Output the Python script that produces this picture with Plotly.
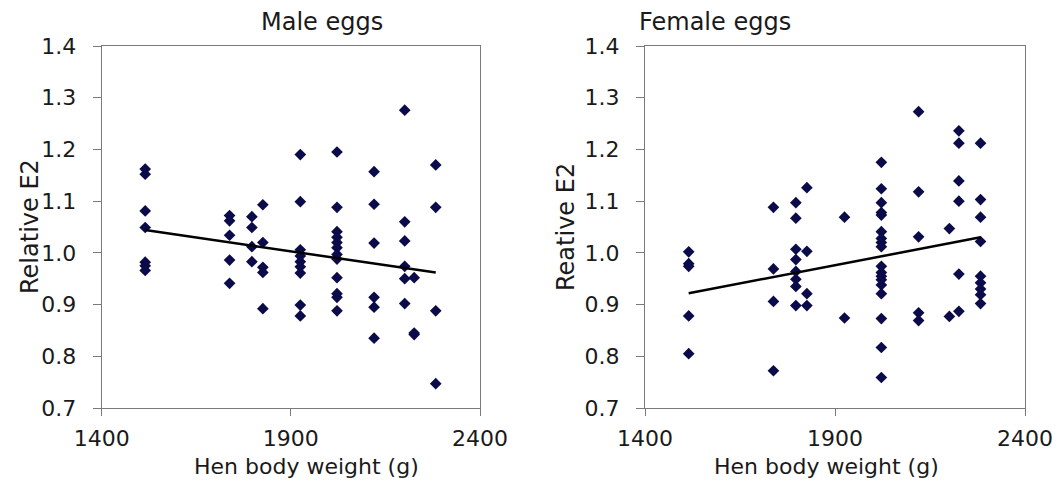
import plotly.graph_objects as go

# ---- Data ----
male_x = ([1515]*7 + [1738]*5 + [1797]*4 + [1826]*5 + [1925]*9 + [2022]*12 +
          [2120]*6 + [2201]*6 + [2226]*3 + [2283]*4)
male_y = [1.162, 1.152, 1.081, 1.049, 0.982, 0.975, 0.966,
          1.072, 1.062, 1.034, 0.986, 0.941,
          1.070, 1.049, 1.012, 0.983,
          1.093, 1.020, 0.972, 0.962, 0.892,
          1.190, 1.099, 1.006, 0.994, 0.983, 0.973, 0.961, 0.899, 0.878,
          1.195, 1.088, 1.041, 1.030, 1.020, 1.010, 0.997, 0.988, 0.952, 0.921, 0.914, 0.888,
          1.157, 1.094, 1.019, 0.914, 0.895, 0.835,
          1.276, 1.060, 1.023, 0.974, 0.950, 0.902,
          0.952, 0.845, 0.842,
          1.170, 1.088, 0.888, 0.747]

female_x = ([1515]*5 + [1738]*4 + [1797]*8 + [1826]*4 + [1925]*2 + [2022]*18 +
            [2120]*5 + [2201]*2 + [2226]*6 + [2283]*9)
female_y = [1.002, 0.979, 0.974, 0.878, 0.805,
            1.088, 0.969, 0.906, 0.772,
            1.097, 1.067, 1.007, 0.987, 0.964, 0.949, 0.935, 0.898,
            1.126, 1.003, 0.921, 0.898,
            1.069, 0.874,
            1.175, 1.124, 1.097, 1.078, 1.073, 1.041, 1.028, 1.020, 1.012,
            0.974, 0.962, 0.955, 0.948, 0.938, 0.921, 0.873, 0.817, 0.759,
            1.273, 1.118, 1.031, 0.884, 0.869,
            1.047, 0.877,
            1.236, 1.212, 1.139, 1.100, 0.959, 0.887,
            1.212, 1.103, 1.069, 1.022, 0.955, 0.942, 0.930, 0.919, 0.902]

# trend lines (end values)
trend_x = [1515, 2283]
male_trend_y = [1.044, 0.962]
female_trend_y = [0.922, 1.030]

x_ticks = [1400, 1900, 2400]
y_ticks = [0.7, 0.8, 0.9, 1.0, 1.1, 1.2, 1.3, 1.4]
panel_titles = ["Male eggs", "Female eggs"]
y_titles = ["Relative E2", "Reative E2"]
x_title = "Hen body weight (g)"

MARK = "#0b0b4a"
FONT = "DejaVu Sans, Liberation Sans, Arial, sans-serif"
TXT = "#1a1a1a"
W, H = 1059, 484

fig = go.Figure()

for i, (xs, ys, ty) in enumerate([(male_x, male_y, male_trend_y),
                                   (female_x, female_y, female_trend_y)]):
    xa = "x" if i == 0 else "x2"
    ya = "y" if i == 0 else "y2"
    fig.add_trace(go.Scatter(x=xs, y=ys, mode="markers", xaxis=xa, yaxis=ya,
                             marker=dict(symbol="diamond", size=9, color=MARK,
                                         line=dict(width=0)),
                             showlegend=False))
    fig.add_trace(go.Scatter(x=trend_x, y=ty, mode="lines", xaxis=xa, yaxis=ya,
                             line=dict(color="black", width=2.5), showlegend=False))

axis_common = dict(showgrid=False, zeroline=False, showline=True, mirror=True,
                   linecolor="#7a7a7a", linewidth=1.3, ticks="outside",
                   tickcolor="#7a7a7a", automargin=False,
                   tickfont=dict(family=FONT, size=22, color=TXT))

domains = [[101.7 / W, 480 / W], [645 / W, 1025 / W]]
title_x = [259, 793]
ytitle_x = [30, 566]
xtitle_x = [306, 826]
for i in range(2):
    sfx = "" if i == 0 else "2"
    fig.layout["xaxis" + sfx] = dict(axis_common, domain=domains[i], range=[1400, 2400],
                                     tickvals=x_ticks, anchor="y" + sfx, ticklen=7,
                                     ticklabelstandoff=3)
    fig.layout["yaxis" + sfx] = dict(axis_common, domain=[0, 1], range=[0.7, 1.4],
                                     tickvals=y_ticks, tickformat=".1f", anchor="x" + sfx,
                                     ticklen=8, ticklabelstandoff=12)
    fig.add_annotation(text=panel_titles[i], xref="paper", yref="paper",
                       x=title_x[i] / W, y=1 - 22 / (H - 46 - 76) * 0 , yshift=0,
                       yanchor="middle", showarrow=False,
                       font=dict(family=FONT, size=24, color=TXT))
    fig.add_annotation(text=y_titles[i], xref="paper", yref="paper",
                       x=ytitle_x[i] / W, y=0.5, textangle=-90, showarrow=False,
                       xanchor="center", yanchor="middle",
                       font=dict(family=FONT, size=24, color=TXT))
    fig.add_annotation(text=x_title, xref="paper", yref="paper",
                       x=xtitle_x[i] / W, y=0, yshift=-58, showarrow=False,
                       xanchor="center", yanchor="middle",
                       font=dict(family=FONT, size=22, color=TXT))

# panel titles sit ~24px above the plot area top
for a in fig.layout.annotations[0::3]:
    a.yshift = 24

fig.update_layout(width=W, height=H, margin=dict(l=0, r=0, t=46, b=76),
                  paper_bgcolor="white", plot_bgcolor="white", font=dict(family=FONT))

fig.write_html("out.html")
